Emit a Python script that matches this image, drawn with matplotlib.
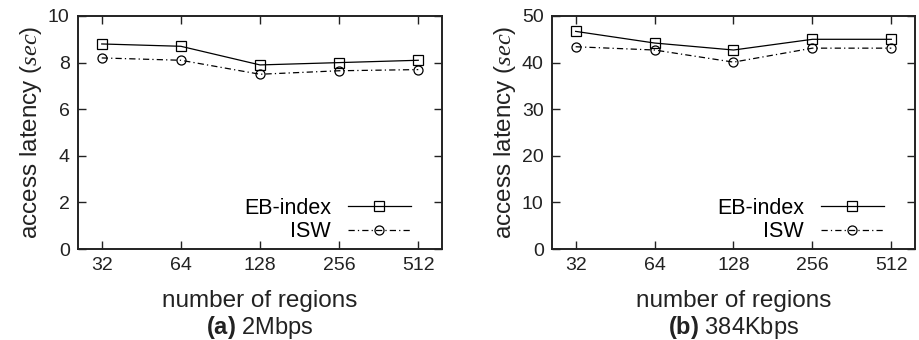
import numpy as np
import matplotlib
matplotlib.use("Agg")
import matplotlib.pyplot as plt

plt.rcParams['font.family'] = ['Liberation Sans', 'DejaVu Sans']
plt.rcParams['mathtext.fontset'] = 'custom'
plt.rcParams['mathtext.rm'] = 'Liberation Sans'
plt.rcParams['mathtext.it'] = 'Liberation Serif:italic'
plt.rcParams['mathtext.bf'] = 'Liberation Sans:bold'

regions = ['32', '64', '128', '256', '512']

# (a) 2Mbps
eb_a = [8.8, 8.7, 7.9, 8.0, 8.1]
isw_a = [8.2, 8.1, 7.5, 7.65, 7.7]

# (b) 384Kbps
eb_b = [46.7, 44.2, 42.7, 45.0, 45.0]
isw_b = [43.4, 42.7, 40.1, 43.1, 43.1]

panels = [
    (eb_a, isw_a, 10, 2, '(a)', '2Mbps'),
    (eb_b, isw_b, 50, 10, '(b)', '384Kbps'),
]

fig = plt.figure(figsize=(9.2, 3.4), dpi=100)
# axes boxes in pixels: left, right
boxes = [(78, 442), (552, 915)]
top_px, bot_px = 16, 249

x = np.arange(len(regions))
for (eb, isw, ymax, ystep, tag, cap), (l, r) in zip(panels, boxes):
    ax = fig.add_axes([l / 920, 1 - bot_px / 340, (r - l) / 920, (bot_px - top_px) / 340])
    ax.plot(x, eb, '-', color='black', lw=0.9, marker='s', ms=7,
            mfc='none', mec='black', mew=0.9, label='EB-index')
    ax.plot(x, isw, color='black', lw=0.9, ls=(0, (5, 2.5, 1, 2.5)), marker='o', ms=6.5,
            mfc='none', mec='black', mew=0.9, label='ISW')
    ax.set_xlim(-0.3, 4.3)
    ax.set_ylim(0, ymax)
    ax.set_xticks(x)
    ax.set_xticklabels(regions)
    ax.set_yticks(np.arange(0, ymax + ystep, ystep))
    ax.tick_params(direction='in', top=True, right=True, length=6, width=1,
                   labelsize=14, pad=6, colors='#222222')
    for s in ax.spines.values():
        s.set_linewidth(1.4)
        s.set_color('#222222')
    ax.set_xlabel('number of regions', fontsize=17.5, labelpad=11, color='#222222')
    ax.set_ylabel('access latency ($sec$)', fontsize=17.5, labelpad=3, color='#222222')
    ax.text(0.5, -0.335, '$\\bf{' + tag + '}$ ' + cap, transform=ax.transAxes,
            ha='center', va='center', fontsize=17, color='#222222')
    ax.legend(loc='lower right', bbox_to_anchor=(0.955, -0.035), frameon=False,
              markerfirst=False, fontsize=15.5, handlelength=2.9, handletextpad=0.8,
              labelspacing=0.1, borderaxespad=0.3)

plt.savefig('out.png', dpi=100)
